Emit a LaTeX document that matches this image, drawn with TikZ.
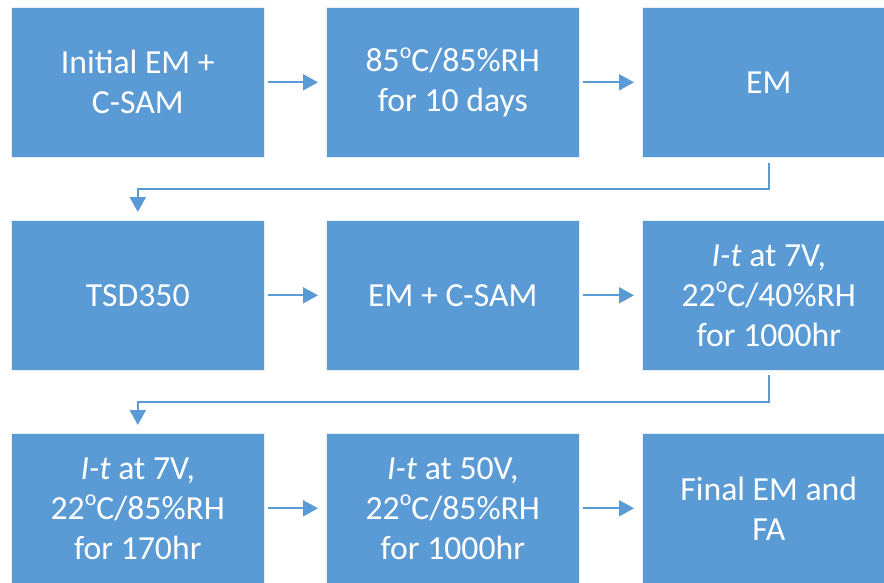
\documentclass[tikz,border=0pt]{standalone}
\usepackage{fontspec}
\setmainfont{Carlito}
\usetikzlibrary{arrows.meta}
\definecolor{boxblue}{HTML}{5B9BD5}
\newcommand{\dg}{\raisebox{0.40em}{\fontsize{22}{22}\selectfont o}}
\begin{document}
\begin{tikzpicture}[x=1pt,y=-1pt,
  stepbox/.style={rectangle, fill=boxblue, draw=white!85!boxblue, line width=0.6pt,
    minimum width=253pt, minimum height=150pt, anchor=north west, inner sep=0pt,
    text=white, align=center, font=\fontsize{33.7}{40}\selectfont},
  conn/.style={draw=boxblue, line width=2pt, -{Triangle[length=15pt,width=16pt]}}]
\useasboundingbox (0,0) rectangle (884,582);
\node[stepbox] (b1) at (11,7) {Initial EM +\\C-SAM};
\node[stepbox] (b2) at (326,7) {85\dg C/85\%RH\\for 10 days};
\node[stepbox] (b3) at (642,7) {EM};
\node[stepbox] (b4) at (11,220) {TSD350};
\node[stepbox] (b5) at (326,220) {EM + C-SAM};
\node[stepbox] (b6) at (642,220) {\textit{I-t} at 7V,\\22\dg C/40\%RH\\for 1000hr};
\node[stepbox] (b7) at (11,433) {\textit{I-t} at 7V,\\22\dg C/85\%RH\\for 170hr};
\node[stepbox] (b8) at (326,433) {\textit{I-t} at 50V,\\22\dg C/85\%RH\\for 1000hr};
\node[stepbox] (b9) at (642,433) {Final EM and\\FA};
\coordinate (m1) at (0,189);
\coordinate (m2) at (0,402);
\draw[conn, shorten <=3pt, shorten >=8pt] (b1) -- (b2);
\draw[conn, shorten <=3pt, shorten >=8pt] (b2) -- (b3);
\draw[conn, shorten <=3pt, shorten >=8pt] (b4) -- (b5);
\draw[conn, shorten <=3pt, shorten >=8pt] (b5) -- (b6);
\draw[conn, shorten <=3pt, shorten >=8pt] (b7) -- (b8);
\draw[conn, shorten <=3pt, shorten >=8pt] (b8) -- (b9);
\draw[conn, shorten <=5pt, shorten >=8pt] (b3.south) -- (b3.south |- m1) -- (b4.north |- m1) -- (b4.north);
\draw[conn, shorten <=4pt, shorten >=8pt] (b6.south) -- (b6.south |- m2) -- (b7.north |- m2) -- (b7.north);
\end{tikzpicture}
\end{document}
